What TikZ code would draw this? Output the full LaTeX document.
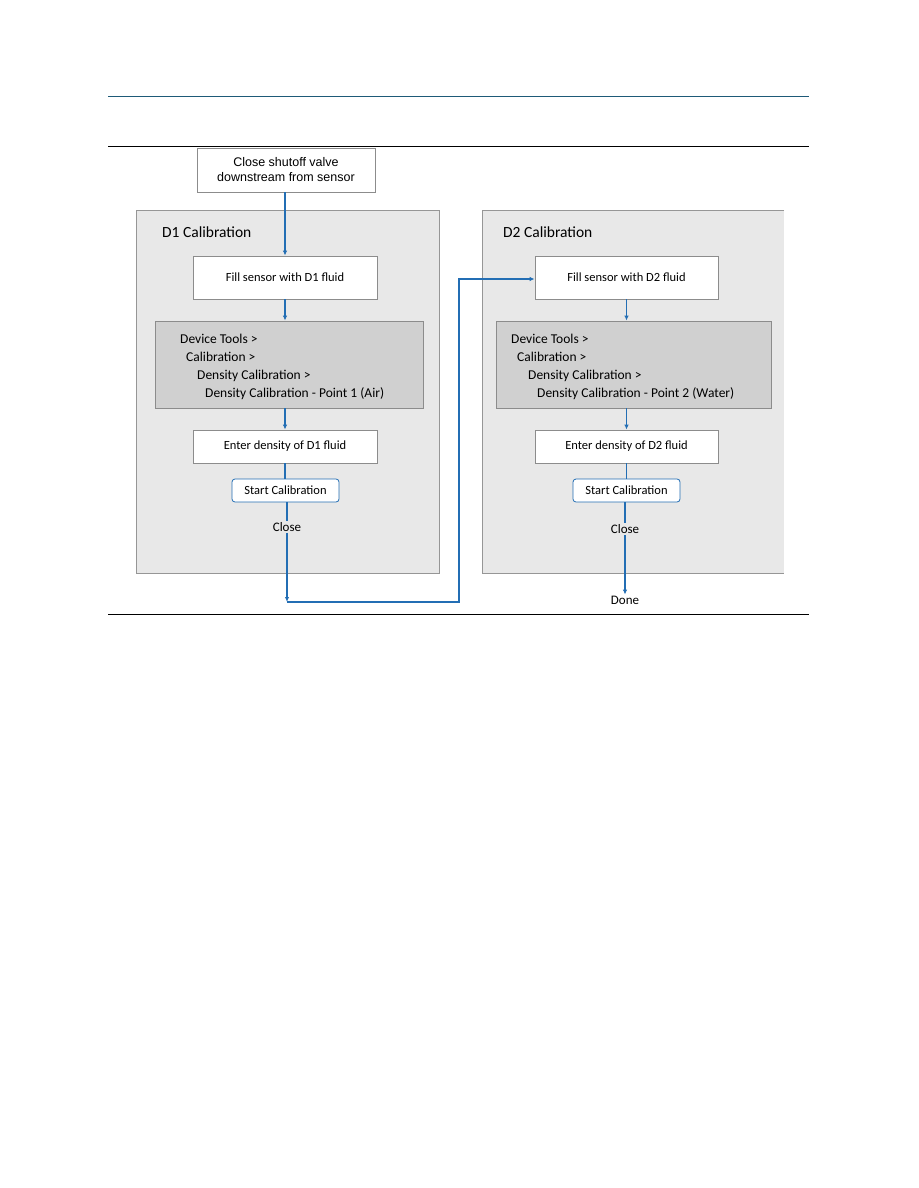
\documentclass[tikz,border=0pt]{standalone}
\usepackage{fontspec}
\setmainfont{Carlito}
\newfontfamily\arialf{Liberation Sans}
\usetikzlibrary{arrows.meta}
\definecolor{flowblue}{RGB}{35,110,180}
\definecolor{rulet}{RGB}{30,90,120}
\definecolor{contfill}{RGB}{232,232,232}
\definecolor{contdraw}{RGB}{150,150,150}
\definecolor{menufill}{RGB}{208,208,208}
\definecolor{boxdraw}{RGB}{140,140,140}
\tikzset{
  cont/.style={draw=contdraw, fill=contfill, line width=0.8pt},
  stepbox/.style={draw=boxdraw, fill=white, line width=0.8pt, font=\fontsize{12.5}{14}\selectfont, inner sep=0pt},
  menubox/.style={draw=boxdraw, fill=menufill, line width=0.8pt, inner sep=0pt},
  menutext/.style={anchor=base west, inner sep=0pt, font=\fontsize{13.5}{15}\selectfont},
  startbox/.style={draw=flowblue, fill=white, rounded corners=3pt, line width=0.8pt, font=\fontsize{12.5}{14}\selectfont, inner sep=0pt, minimum width=107pt, minimum height=23pt},
  lbl/.style={inner sep=1pt, font=\fontsize{13}{15}\selectfont},
  ttl/.style={anchor=west, inner sep=0pt, font=\fontsize{15.5}{18}\selectfont},
  flow/.style={draw=flowblue, line width=1.5pt},
  arr/.style={flow, -{Latex[length=5pt,width=4.5pt]}},
}
\begin{document}
\begin{tikzpicture}[x=1pt,y=-1pt]
\useasboundingbox (0,0) rectangle (918,1188);
% rules
\draw[rulet, line width=1pt] (108,97) -- (809,97);
\draw[black, line width=1pt] (108,146) -- (809,146);
\draw[black, line width=1pt] (108,614) -- (809,614);

% containers
\path[cont] (136,210) rectangle (439,573);
\fill[contfill] (482,210) rectangle (784,573);
\draw[contdraw, line width=0.8pt] (784,210) -- (482,210) -- (482,573) -- (784,573);
\node[ttl] (t1) at (162,232) {D1 Calibration};
\node[ttl] (t2) at (503,232) {D2 Calibration};

% start
\node[stepbox, font=\arialf\fontsize{12.5}{15}\selectfont, align=center, minimum width=178pt, minimum height=44pt] (shut) at (286,170) {Close shutoff valve\\downstream from sensor};

% column 1
\node[stepbox, minimum width=184pt, minimum height=43pt] (fill1) at (285,277.5) {Fill sensor with D1 fluid};
\node[menubox, minimum width=268pt, minimum height=87pt] (menu1) at (289,364.5) {};
\node[menutext] (m1a) at (180,343) {Device Tools >};
\node[menutext] (m1b) at (186,361) {Calibration >};
\node[menutext] (m1c) at (197,379) {Density Calibration >};
\node[menutext] (m1d) at (205,397) {Density Calibration - Point 1 (Air)};
\node[stepbox, minimum width=184pt, minimum height=33pt] (enter1) at (285,446.5) {Enter density of D1 fluid};
\node[startbox] (start1) at (285.5,490.5) {Start Calibration};
\node[lbl] (close1) at (287,527) {Close};
\coordinate (c1) at (287,602);
\coordinate (c2) at (459,602);
\coordinate (c3) at (459,279);

% column 2
\node[stepbox, minimum width=183pt, minimum height=43pt] (fill2) at (626.5,277.5) {Fill sensor with D2 fluid};
\node[menubox, minimum width=275pt, minimum height=87pt] (menu2) at (633.5,364.5) {};
\node[menutext] (m2a) at (511,343) {Device Tools >};
\node[menutext] (m2b) at (517,361) {Calibration >};
\node[menutext] (m2c) at (528,379) {Density Calibration >};
\node[menutext] (m2d) at (537,397) {Density Calibration - Point 2 (Water)};
\node[stepbox, minimum width=183pt, minimum height=33pt] (enter2) at (626.5,446.5) {Enter density of D2 fluid};
\node[startbox] (start2) at (626.5,490.5) {Start Calibration};
\node[lbl] (close2) at (625,529) {Close};
\node[lbl] (done) at (625,600) {Done};

% connectors column 1
\draw[arr] (shut.south -| fill1.north) -- (fill1.north);
\draw[arr] (fill1.south) -- (fill1.south |- menu1.north);
\draw[arr] (fill1.south |- menu1.south) -- (enter1.north);
\draw[flow] (enter1.south) -- (enter1.south |- start1.north);
\draw[flow] (start1.south -| close1) -- (close1.north);
\draw[arr] (close1.south) -- (c1);
\draw[arr] (c1) -- (c2) -- (c3) -- (fill2.west |- c3);

% connectors column 2
\draw[arr] (fill2.south) -- (fill2.south |- menu2.north);
\draw[arr] (fill2.south |- menu2.south) -- (enter2.north);
\draw[flow] (enter2.south) -- (enter2.south |- start2.north);
\draw[flow] (start2.south -| close2) -- (close2.north);
\draw[arr] (close2.south) -- (done.north);
\end{tikzpicture}
\end{document}
